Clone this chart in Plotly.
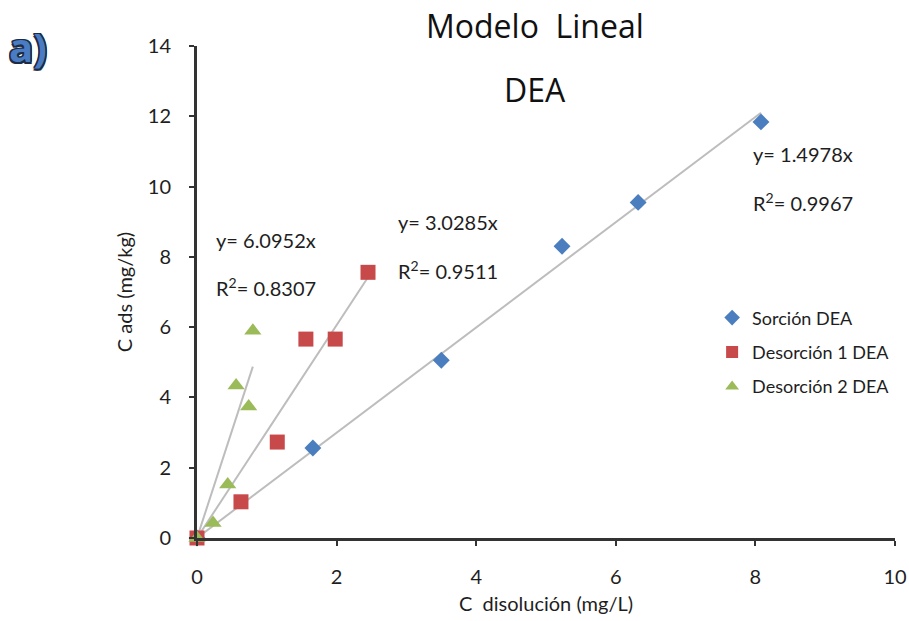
import plotly.graph_objects as go

# Data
sorcion_x = [0.0, 1.66, 3.50, 5.23, 6.32, 8.08]
sorcion_y = [0.0, 2.56, 5.06, 8.30, 9.55, 11.84]
desorcion1_x = [0.0, 0.63, 1.15, 1.56, 1.98, 2.45]
desorcion1_y = [0.0, 1.03, 2.73, 5.66, 5.66, 7.56]
desorcion2_x = [0.0, 0.23, 0.44, 0.56, 0.74, 0.80]
desorcion2_y = [0.0, 0.43, 1.52, 4.34, 3.74, 5.90]

slopes = {"sorcion": 1.4978, "des1": 3.0285, "des2": 6.0952}
r2 = {"sorcion": 0.9967, "des1": 0.9511, "des2": 0.8307}

x_ticks = [0, 2, 4, 6, 8, 10]
y_ticks = [0, 2, 4, 6, 8, 10, 12, 14]

BLUE = "#4A7EBF"
RED = "#C8494A"
GREEN = "#9BBB59"
TREND = "#BDBDBD"
FONT = "Lato"
TFONT = "Open Sans"
TXT = "#1e1e1e"

fig = go.Figure()

# trendlines (y = m x through origin, up to max x of each series)
for xs, m in [(sorcion_x, slopes["sorcion"]), (desorcion1_x, slopes["des1"]), (desorcion2_x, slopes["des2"])]:
    xe = max(xs)
    fig.add_trace(go.Scatter(x=[0, xe], y=[0, m * xe], mode="lines",
                             line=dict(color=TREND, width=2), showlegend=False,
                             hoverinfo="skip", cliponaxis=False))

fig.add_trace(go.Scatter(x=sorcion_x, y=sorcion_y, mode="markers", name="Sorción DEA",
                         legendgroup="a",
                         marker=dict(symbol="diamond", size=13, color=BLUE), cliponaxis=False))
fig.add_trace(go.Scatter(x=desorcion1_x, y=desorcion1_y, mode="markers", name="Desorción 1 DEA",
                         legendgroup="b",
                         marker=dict(symbol="square", size=15, color=RED), cliponaxis=False))
fig.add_trace(go.Scatter(x=desorcion2_x, y=desorcion2_y, mode="markers", name="Desorción 2 DEA",
                         legendgroup="c",
                         marker=dict(symbol="triangle-up", size=15, color=GREEN), cliponaxis=False))

ann = []
eq_font = dict(family=FONT, size=20, color=TXT)
for (xp, yp_eq, yp_r2, key) in [(0.27, 8.48, 7.13, "des2"), (2.88, 9.0, 7.64, "des1"), (7.97, 10.92, 9.57, "sorcion")]:
    ann.append(dict(x=xp, y=yp_eq, xref="x", yref="y", text=f"y= {slopes[key]:.4f}x",
                    showarrow=False, xanchor="left", yanchor="middle", xshift=-2, font=eq_font))
    ann.append(dict(x=xp, y=yp_r2, xref="x", yref="y", text=f"R<sup>2</sup>= {r2[key]:.4f}",
                    showarrow=False, xanchor="left", yanchor="middle", xshift=-2, font=eq_font))

ann.append(dict(x=0.484, y=1.0, xref="paper", yref="paper", text="Modelo  Lineal", showarrow=False,
                yanchor="middle", yshift=21, font=dict(family=TFONT, size=32, color="#111111")))
ann.append(dict(x=0.484, y=0.9106, xref="paper", yref="paper", text="DEA", showarrow=False,
                yanchor="middle", font=dict(family=TFONT, size=32, color="#111111")))
ann.append(dict(x=-0.272, y=1.0, xref="paper", yref="paper", text="<b>a)</b>", showarrow=False,
                xanchor="left", yanchor="middle",
                font=dict(family=TFONT, size=40, color="#4A7CC4",
                          shadow="-1.5px -1.5px 0 #1c2c44, 1.5px -1.5px 0 #1c2c44, -1.5px 1.5px 0 #1c2c44, 1.5px 1.5px 0 #1c2c44, 0 1.5px 0 #1c2c44, 0 -1.5px 0 #1c2c44, 1.5px 0 0 #1c2c44, -1.5px 0 0 #1c2c44")))

fig.update_layout(
    width=909, height=621,
    margin=dict(l=197, r=14, t=46, b=83),
    paper_bgcolor="white", plot_bgcolor="white",
    font=dict(family=FONT, size=18, color=TXT),
    annotations=ann,
    showlegend=True,
    legend=dict(x=0.738, y=0.485, xanchor="left", yanchor="top",
                font=dict(family=FONT, size=18, color=TXT),
                bgcolor="rgba(0,0,0,0)", tracegroupgap=8, itemsizing="constant"),
    xaxis=dict(range=[0, 10], tickvals=x_ticks, showgrid=False, zeroline=False, automargin=False,
               showline=True, linecolor="#333333", linewidth=3,
               ticks="outside", ticklen=5, tickwidth=2, tickcolor="#333333",
               ticklabelstandoff=14,
               tickfont=dict(family=FONT, size=20, color=TXT),
               title=dict(text="C  disolución (mg/L)", font=dict(family=FONT, size=20, color=TXT), standoff=10)),
    yaxis=dict(range=[0, 14], tickvals=y_ticks, showgrid=False, zeroline=False, automargin=False,
               showline=True, linecolor="#333333", linewidth=3,
               ticks="outside", ticklen=5, tickwidth=2, tickcolor="#333333",
               ticklabelstandoff=14,
               tickfont=dict(family=FONT, size=20, color=TXT),
               title=dict(text="C ads (mg/kg)", font=dict(family=FONT, size=20, color=TXT), standoff=10)),
)

fig.write_html("out.html")
